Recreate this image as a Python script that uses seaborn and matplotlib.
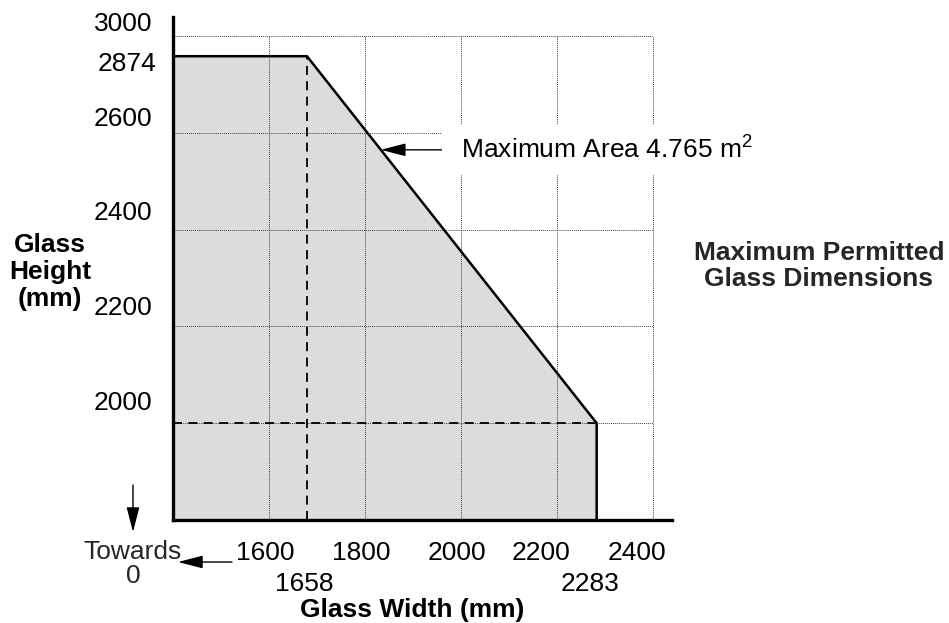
import numpy as np
import matplotlib
matplotlib.use("Agg")
import matplotlib.pyplot as plt
import seaborn as sns
from matplotlib.transforms import ScaledTranslation

# ---------------- data ----------------
boundary_width = [1400, 1658, 2283, 2283]      # mm
boundary_height = [2874, 2874, 2000, 1800]     # mm
corner_width = 1658
corner_height = 2874
max_width = 2283
end_height = 2000
x_grid = [1600, 1800, 2000, 2200, 2400]
y_grid = [2000, 2200, 2400, 2600, 3000]
x_ticks = [1600, 1658, 1800, 2000, 2200, 2283, 2400]
x_tick_labels = ["1600", "1658", "1800", "2000", "2200", "2283", "2400"]
y_ticks = [2000, 2200, 2400, 2600, 2874, 3000]
y_tick_labels = ["2000", "2200", "2400", "2600", "2874", "3000"]
area_label = " Maximum Area 4.765 m$^2$"
title_text = "Maximum Permitted\nGlass Dimensions"
x_label = "Glass Width (mm)"
y_label = "Glass\nHeight\n(mm)"
towards_text = "Towards\n0"

# -------- schematic (piecewise) axis scales as drawn in the reference --------
X_VAL = [1200, 1400, 1600, 1658, 1800, 2000, 2200, 2283, 2400, 2600]
X_POS = [-1, 0, 1, 1.396, 2, 3, 4, 4.415, 5, 6]
Y_VAL = [1600, 1800, 2000, 2200, 2400, 2600, 2874, 3000, 3400]
Y_POS = [-1, 0, 1, 2, 3, 4, 4.79, 5, 6]


def piecewise(src, dst):
    src = np.asarray(src, float)
    dst = np.asarray(dst, float)

    def f(v):
        arr = np.asarray(v, float)
        a = np.atleast_1d(arr)
        out = np.interp(a, src, dst)
        lo = a < src[0]
        hi = a > src[-1]
        out[lo] = dst[0] + (a[lo] - src[0]) * (dst[1] - dst[0]) / (src[1] - src[0])
        out[hi] = dst[-1] + (a[hi] - src[-1]) * (dst[-1] - dst[-2]) / (src[-1] - src[-2])
        return out.reshape(arr.shape) if arr.ndim else out[0]
    return f


x_fwd, x_inv = piecewise(X_VAL, X_POS), piecewise(X_POS, X_VAL)
y_fwd, y_inv = piecewise(Y_VAL, Y_POS), piecewise(Y_POS, Y_VAL)

# ---------------- style ----------------
sns.set_theme(style="white")
plt.rcParams["font.family"] = ["Liberation Sans", "DejaVu Sans"]
plt.rcParams["mathtext.fontset"] = "custom"
plt.rcParams["mathtext.rm"] = "Liberation Sans"
plt.rcParams["mathtext.it"] = "Liberation Sans:italic"
FS = 19

W, H = 949, 623
fig = plt.figure(figsize=(W / 100, H / 100), dpi=100)
fig.patch.set_facecolor("white")
ax = fig.add_axes([173 / W, 103 / H, 499 / W, 503 / H])
ax.set_facecolor("white")
ax.set_xscale("function", functions=(x_fwd, x_inv))
ax.set_yscale("function", functions=(y_fwd, y_inv))

# shaded permitted region
ax.fill_between(boundary_width, boundary_height, boundary_height[-1],
                color="#dcdcdc", lw=0, zorder=1)

# dotted grid
ax.vlines(x_grid, boundary_height[-1], y_grid[-1], colors="#444444",
          linestyles=(0, (1, 1)), lw=0.7, zorder=2)
ax.hlines(y_grid, boundary_width[0], x_grid[-1], colors="#444444",
          linestyles=(0, (1, 1)), lw=0.7, zorder=2)

# dashed reference lines
ax.vlines([corner_width], boundary_height[-1], corner_height, colors="black",
          linestyles=(0, (5, 3.5)), lw=1.3, zorder=3)
ax.hlines([end_height], boundary_width[0], max_width, colors="black",
          linestyles=(0, (5, 3.5)), lw=1.3, zorder=3)

# boundary outline
sns.lineplot(x=boundary_width, y=boundary_height, estimator=None, sort=False,
             color="black", lw=1.8, ax=ax, zorder=4)

ax.set_xlim(1400, 2440)
ax.set_ylim(1800, 3078)

for s in ["top", "right"]:
    ax.spines[s].set_visible(False)
for s in ["left", "bottom"]:
    ax.spines[s].set_color("black")
    ax.spines[s].set_linewidth(2.4)
    ax.spines[s].set_zorder(5)

# ticks
ax.set_xticks(x_ticks)
ax.set_xticklabels(x_tick_labels)
ax.set_yticks(y_ticks)
ax.set_yticklabels(y_tick_labels)
ax.xaxis.set_minor_locator(matplotlib.ticker.NullLocator())
ax.yaxis.set_minor_locator(matplotlib.ticker.NullLocator())
ax.tick_params(axis="x", length=0, pad=15, labelsize=FS, colors="black")
ax.tick_params(axis="y", length=0, pad=15, labelsize=FS, colors="black")

# label offsets (pixels) as laid out in the reference
x_off = {"1600": (-4, 0), "1658": (-3, -31), "1800": (-4, 0), "2000": (-4, 0),
         "2200": (-16, 0), "2283": (-7, -31), "2400": (-16, 0)}
y_off = {"2000": (0, 23), "2200": (0, 21), "2400": (0, 19), "2600": (0, 16),
         "2874": (4, -5), "3000": (0, 14)}
for lbl, txt in zip(ax.get_xticklabels(), x_tick_labels):
    dx, dy = x_off[txt]
    lbl.set_transform(lbl.get_transform() + ScaledTranslation(dx / 100, dy / 100, fig.dpi_scale_trans))
for lbl, txt in zip(ax.get_yticklabels(), y_tick_labels):
    dx, dy = y_off[txt]
    lbl.set_transform(lbl.get_transform() + ScaledTranslation(dx / 100, dy / 100, fig.dpi_scale_trans))

# axis labels
ax.set_xlabel(x_label, fontsize=FS, fontweight="bold", color="black")
ax.xaxis.set_label_coords((412 - 173) / 499, (520 - 610) / 503)
ax.xaxis.label.set_va("center")
ax.set_ylabel(y_label, fontsize=FS, fontweight="bold", color="black",
              rotation=0, ha="center", va="center", linespacing=1.15)
ax.yaxis.set_label_coords((50 - 173) / 499, (520 - 272) / 503)

# area annotation: arrow to a point along the sloping boundary
t = 0.255
px0, py0 = x_fwd(corner_width), y_fwd(corner_height)
px1, py1 = x_fwd(max_width), y_fwd(end_height)
target = (float(x_inv(px0 + t * (px1 - px0))), float(y_inv(py0 + t * (py1 - py0))))
ax.annotate(area_label, xy=target, xycoords="data",
            xytext=(454, H - 150), textcoords="figure pixels",
            ha="left", va="center", fontsize=FS, color="black",
            bbox=dict(boxstyle="square,pad=0.45", fc="white", ec="none"),
            arrowprops=dict(arrowstyle="-|>,head_length=0.85,head_width=0.22",
                            mutation_scale=18, color="black", lw=1.0,
                            shrinkA=0, shrinkB=0),
            zorder=6, annotation_clip=False)

# side title
fig.text(819 / W, 1 - 266 / H, title_text, ha="center", va="center",
         fontsize=FS, fontweight="bold", linespacing=1.15)

# "Towards 0" note with arrows
fig.text(133 / W, 1 - 564 / H, towards_text, ha="center", va="center",
         fontsize=FS, linespacing=1.05)
arrow_style = dict(arrowstyle="-|>,head_length=0.85,head_width=0.22",
                   mutation_scale=18, color="black", lw=1.0, shrinkA=0, shrinkB=0)
ax.annotate("", xy=(133, H - 532), xycoords="figure pixels",
            xytext=(133, H - 485), textcoords="figure pixels",
            arrowprops=arrow_style, annotation_clip=False)
ax.annotate("", xy=(178, H - 562), xycoords="figure pixels",
            xytext=(232, H - 562), textcoords="figure pixels",
            arrowprops=arrow_style, annotation_clip=False)

fig.savefig("out.png", dpi=100, facecolor="white")
